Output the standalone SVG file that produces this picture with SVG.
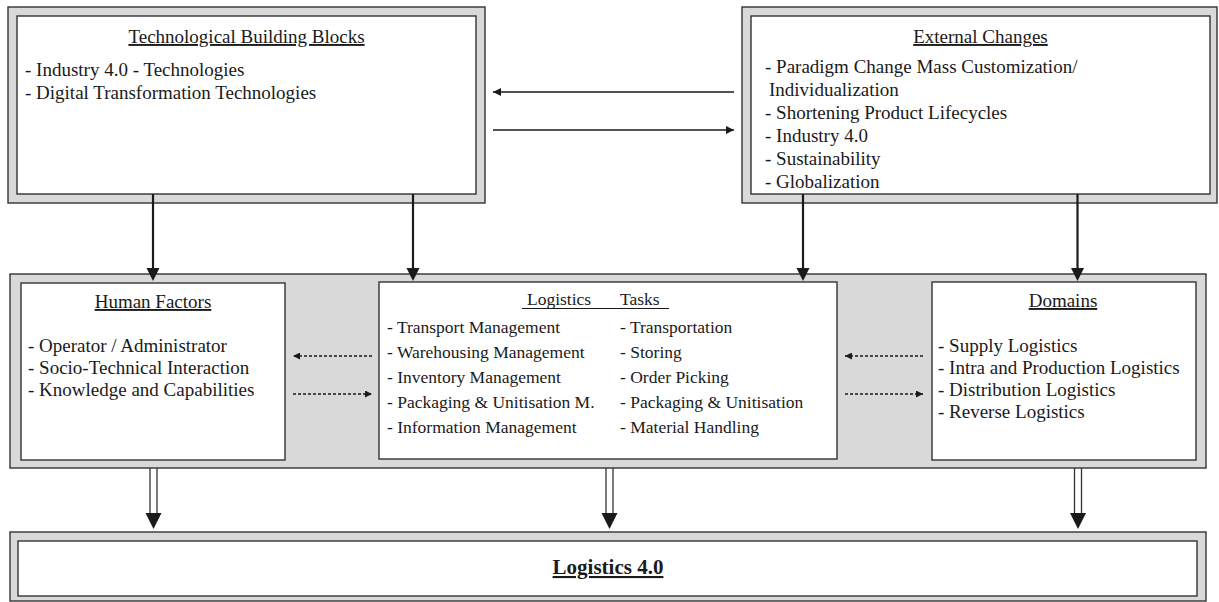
<svg xmlns="http://www.w3.org/2000/svg" width="1219" height="602" viewBox="0 0 1219 602">
<defs>
<style>
.outer{fill:#d9d9d9;stroke:#333;stroke-width:1.4}
.inner{fill:#fff;stroke:#333;stroke-width:1.4}
text{font-family:"Liberation Serif","Times New Roman",serif;fill:#1a1a1a}
.t{font-size:19px}
.s{font-size:17.5px}
.ttl{font-size:19px;text-anchor:middle;text-decoration:underline}
.main{font-size:21px;font-weight:bold;text-anchor:middle;text-decoration:underline}
.bold{stroke:#1a1a1a;stroke-width:2.2;fill:none}
.thin{stroke:#1a1a1a;stroke-width:1.5;fill:none}
.dot{stroke:#1a1a1a;stroke-width:1.3;fill:none;stroke-dasharray:3 2}
.dbl{stroke:#333;stroke-width:1.3;fill:none}
.head{fill:#1a1a1a}
</style>
<marker id="ah" viewBox="0 0 10 10" refX="10" refY="5" markerWidth="9" markerHeight="8" markerUnits="userSpaceOnUse" orient="auto">
<path d="M0,0 L10,5 L0,10 Z" fill="#1a1a1a"/>
</marker>
<marker id="ad" viewBox="0 0 10 10" refX="10" refY="5" markerWidth="7" markerHeight="7" markerUnits="userSpaceOnUse" orient="auto">
<path d="M0,0 L10,5 L0,10 Z" fill="#1a1a1a"/>
</marker>
</defs>
<rect width="1219" height="602" fill="#fff"/>

<g id="tech">
<rect class="outer" x="8" y="7" width="477" height="196"/>
<rect class="inner" x="17" y="16" width="459" height="178"/>
<text class="ttl" x="246.5" y="43">Technological Building Blocks</text>
<text class="t" x="25" y="76">- Industry 4.0 - Technologies</text>
<text class="t" x="25" y="99">- Digital Transformation Technologies</text>
</g>

<g id="external">
<rect class="outer" x="742" y="7" width="475" height="196"/>
<rect class="inner" x="751" y="16" width="459" height="178"/>
<text class="ttl" x="980.5" y="43">External Changes</text>
<text class="t" x="765" y="73">- Paradigm Change Mass Customization/</text>
<text class="t" x="769" y="96">Individualization</text>
<text class="t" x="765" y="119">- Shortening Product Lifecycles</text>
<text class="t" x="765" y="142">- Industry 4.0</text>
<text class="t" x="765" y="165">- Sustainability</text>
<text class="t" x="765" y="188">- Globalization</text>
</g>

<g id="middle-band">
<rect class="outer" x="10" y="274" width="1196" height="194"/>
</g>

<g id="human">
<rect class="inner" x="21" y="283" width="264" height="177"/>
<text class="ttl" x="153" y="308">Human Factors</text>
<text class="t" x="28" y="352">- Operator / Administrator</text>
<text class="t" x="28" y="374">- Socio-Technical Interaction</text>
<text class="t" x="28" y="396">- Knowledge and Capabilities</text>
</g>

<g id="logistics-tasks">
<rect class="inner" x="379" y="282" width="458" height="177"/>
<text class="s" x="527" y="305">Logistics</text>
<text class="s" x="620" y="305">Tasks</text>
<line x1="522" y1="308.5" x2="669" y2="308.5" stroke="#1a1a1a" stroke-width="1.2"/>
<text class="s" x="387" y="333">- Transport Management</text>
<text class="s" x="387" y="358">- Warehousing Management</text>
<text class="s" x="387" y="383">- Inventory Management</text>
<text class="s" x="387" y="408">- Packaging &amp; Unitisation M.</text>
<text class="s" x="387" y="433">- Information Management</text>
<text class="s" x="620" y="333">- Transportation</text>
<text class="s" x="620" y="358">- Storing</text>
<text class="s" x="620" y="383">- Order Picking</text>
<text class="s" x="620" y="408">- Packaging &amp; Unitisation</text>
<text class="s" x="620" y="433">- Material Handling</text>
</g>

<g id="domains">
<rect class="inner" x="932" y="282" width="264" height="178"/>
<text class="ttl" x="1063" y="307">Domains</text>
<text class="t" x="938" y="352">- Supply Logistics</text>
<text class="t" x="938" y="374">- Intra and Production Logistics</text>
<text class="t" x="938" y="396">- Distribution Logistics</text>
<text class="t" x="938" y="418">- Reverse Logistics</text>
</g>

<g id="logistics40">
<rect class="outer" x="10" y="532" width="1196" height="69"/>
<rect class="inner" x="18" y="541" width="1179" height="55"/>
<text class="main" x="608" y="574">Logistics 4.0</text>
</g>

<g id="connectors">
<line class="thin" x1="734" y1="92" x2="493" y2="92" marker-end="url(#ah)"/>
<line class="thin" x1="493" y1="130" x2="734" y2="130" marker-end="url(#ah)"/>

<line class="bold" x1="153" y1="194" x2="153" y2="268"/>
<path class="head" d="M146.5,268 L159.5,268 L153,281 Z"/>
<line class="bold" x1="413" y1="194" x2="413" y2="268"/>
<path class="head" d="M406.5,268 L419.5,268 L413,281 Z"/>
<line class="bold" x1="803" y1="194" x2="803" y2="268"/>
<path class="head" d="M796.5,268 L809.5,268 L803,281 Z"/>
<line class="bold" x1="1077.5" y1="194" x2="1077.5" y2="268"/>
<path class="head" d="M1071,268 L1084,268 L1077.5,281 Z"/>

<line class="dot" x1="372" y1="356" x2="293" y2="356" marker-end="url(#ad)"/>
<line class="dot" x1="293" y1="394" x2="372" y2="394" marker-end="url(#ad)"/>
<line class="dot" x1="923" y1="356" x2="845" y2="356" marker-end="url(#ad)"/>
<line class="dot" x1="845" y1="394" x2="923" y2="394" marker-end="url(#ad)"/>

<line class="dbl" x1="150" y1="468" x2="150" y2="514"/>
<line class="dbl" x1="157" y1="468" x2="157" y2="514"/>
<path class="head" d="M145.5,513 L161.5,513 L153.5,529 Z"/>
<line class="dbl" x1="606" y1="468" x2="606" y2="514"/>
<line class="dbl" x1="613" y1="468" x2="613" y2="514"/>
<path class="head" d="M601.5,513 L617.5,513 L609.5,529 Z"/>
<line class="dbl" x1="1074.5" y1="468" x2="1074.5" y2="514"/>
<line class="dbl" x1="1081.5" y1="468" x2="1081.5" y2="514"/>
<path class="head" d="M1070,513 L1086,513 L1078,529 Z"/>
</g>
</svg>
